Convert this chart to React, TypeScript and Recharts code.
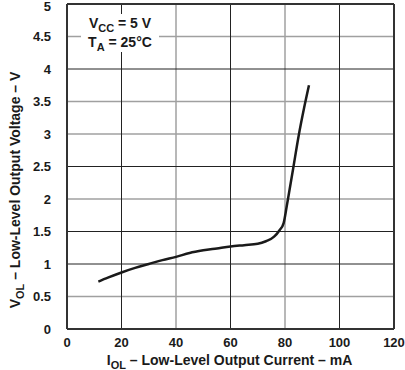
import { LineChart, Line, XAxis, YAxis, ReferenceLine } from "recharts";

// I_OL (mA) vs V_OL (V)
const currentMA = [11.5, 15, 20, 25, 30, 35, 40, 45, 50, 55, 60, 65, 70, 73, 76, 78, 79.5, 80.6, 81.5, 83, 85, 87, 88.8];
const voltageV = [0.73, 0.79, 0.87, 0.94, 1.0, 1.06, 1.11, 1.17, 1.21, 1.24, 1.27, 1.29, 1.31, 1.35, 1.42, 1.52, 1.63, 1.88, 2.1, 2.47, 2.97, 3.4, 3.75];

const xTicks = [0, 20, 40, 60, 80, 100, 120];
const yTicks = [0, 0.5, 1, 1.5, 2, 2.5, 3, 3.5, 4, 4.5, 5];

// the scan shows some grid lines darker than others
const darkX = [20, 60, 100];
const lightX = [40, 80];
const darkY = [1, 1.5, 2.5, 4];
const lightY = [0.5, 2, 3, 3.5, 4.5];

const data = currentMA.map((x, i) => ({ x, v: voltageV[i] }));

const FONT = "'Liberation Sans', Arial, Helvetica, sans-serif";
const INK = "#1a1a1a";

function XTitle({ viewBox }: any) {
  const cx = viewBox.x + viewBox.width / 2 - 1;
  const y = 365;
  return (
    <text x={cx} y={y} textAnchor="middle" fontFamily={FONT} fontWeight="bold" fontSize={14} fill={INK}>
      I<tspan fontSize={11} dy={4}>OL</tspan>
      <tspan dy={-4}> – Low-Level Output Current – mA</tspan>
    </text>
  );
}

function YTitle() {
  const x = 20;
  const y = 190;
  return (
    <text
      x={x}
      y={y}
      transform={`rotate(-90 ${x} ${y})`}
      textAnchor="middle"
      fontFamily={FONT}
      fontWeight="bold"
      fontSize={14}
      fill={INK}
    >
      V<tspan fontSize={11} dy={4}>OL</tspan>
      <tspan dy={-4}> – Low-Level Output Voltage – V</tspan>
    </text>
  );
}

function YTick({ x, y, payload }: any) {
  // keep the top label inside the page
  const shift = payload.value === 5 ? 2 : 0;
  return (
    <text
      x={x}
      y={y + shift}
      dy="0.355em"
      textAnchor="end"
      fontFamily={FONT}
      fontWeight="bold"
      fontSize={13}
      fill={INK}
    >
      {payload.value}
    </text>
  );
}

export default function App() {
  return (
    <div style={{ position: "absolute", left: 0, top: 0, width: 405, height: 370, background: "#fff" }}>
      <LineChart width={405} height={370} data={data} margin={{ top: 4, right: 11, bottom: 0, left: 0 }}>
        <XAxis
          dataKey="x"
          type="number"
          domain={[0, 120]}
          ticks={xTicks}
          height={41}
          tickLine={false}
          axisLine={{ stroke: "#333", strokeWidth: 2 }}
          tick={{ fill: INK, fontSize: 13, fontWeight: "bold", fontFamily: FONT }}
          tickMargin={3}
          label={<XTitle />}
        />
        <YAxis
          type="number"
          domain={[0, 5]}
          ticks={yTicks}
          width={67}
          tickLine={false}
          axisLine={{ stroke: "#333", strokeWidth: 2 }}
          tick={<YTick />}
          tickMargin={10}
          interval={0}
          label={<YTitle />}
        />
        {lightX.map((v) => (
          <ReferenceLine key={"lx" + v} x={v} stroke="#a0a0a0" strokeWidth={1.5} />
        ))}
        {lightY.map((v) => (
          <ReferenceLine key={"ly" + v} y={v} stroke="#a0a0a0" strokeWidth={1.5} />
        ))}
        {darkX.map((v) => (
          <ReferenceLine key={"dx" + v} x={v} stroke="#222" strokeWidth={1} />
        ))}
        {darkY.map((v) => (
          <ReferenceLine key={"dy" + v} y={v} stroke="#222" strokeWidth={1} />
        ))}
        <ReferenceLine x={120} stroke="#333" strokeWidth={2} />
        <ReferenceLine y={5} stroke="#333" strokeWidth={2} />
        <Line
          type="monotone"
          dataKey="v"
          stroke={INK}
          strokeWidth={2.5}
          dot={false}
          isAnimationActive={false}
        />
      </LineChart>
      <div
        style={{
          position: "absolute",
          left: 81,
          top: 14,
          width: 78,
          height: 38,
          background: "#fff",
          fontFamily: FONT,
          fontWeight: "bold",
          fontSize: 14,
          color: INK,
          lineHeight: "19px",
          textAlign: "center",
        }}
      >
        <div>
          V<sub style={{ fontSize: 11, lineHeight: 0 }}>CC</sub> = 5 V
        </div>
        <div>
          T<sub style={{ fontSize: 11, lineHeight: 0 }}>A</sub> = 25°C
        </div>
      </div>
    </div>
  );
}
